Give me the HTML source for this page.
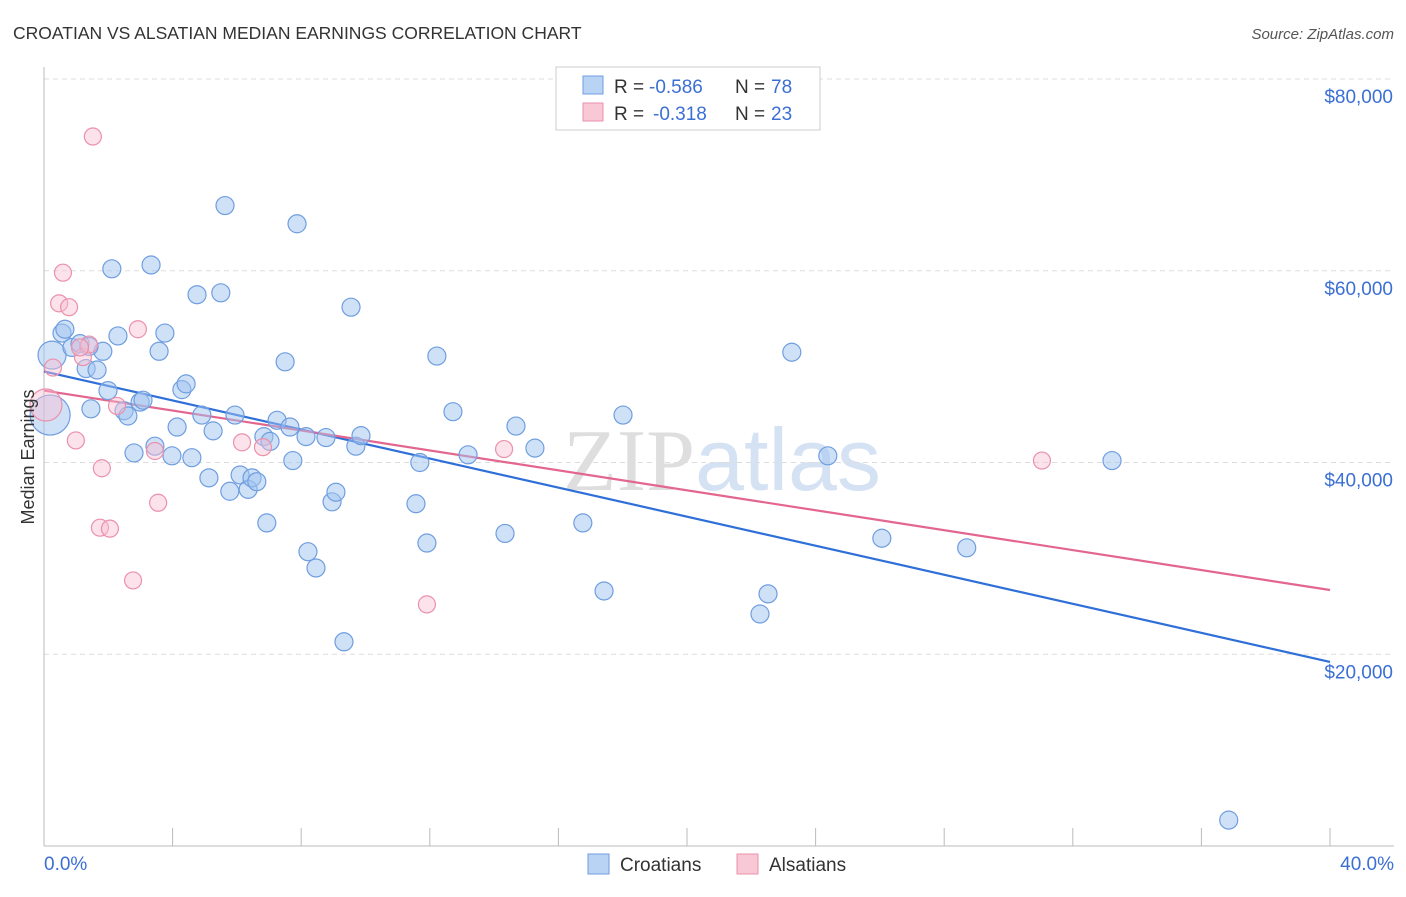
<!DOCTYPE html>
<html><head><meta charset="utf-8"><style>
body{margin:0;background:#fff;font-family:"Liberation Sans",sans-serif}
svg text{font-family:"Liberation Sans",sans-serif}
</style></head><body>
<svg id="chart" width="1406" height="892" xmlns="http://www.w3.org/2000/svg">
<text x="13" y="39" font-size="17.5" fill="#333">CROATIAN VS ALSATIAN MEDIAN EARNINGS CORRELATION CHART</text>
<text x="1394" y="39" font-size="15" fill="#555" font-style="italic" text-anchor="end">Source: ZipAtlas.com</text>
<text x="722" y="490" font-size="88" fill="#e6e6ea" text-anchor="middle"><tspan font-family="Liberation Serif" fill="#dedede">ZIP</tspan><tspan fill="#d4e2f4">atlas</tspan></text>
<g id="grid"></g><g id="axes"></g><g id="lines"></g><g id="points"></g>
<text transform="translate(34,457) rotate(-90)" font-size="18" fill="#333" text-anchor="middle">Median Earnings</text>
<text x="44" y="870" font-size="19" fill="#3b6fd4">0.0%</text>
<text x="1394" y="870" font-size="19" fill="#3b6fd4" text-anchor="end">40.0%</text>
<g font-size="19">
<rect x="556" y="67" width="264" height="63" fill="#fff" stroke="#ccc"/>
<rect x="583" y="76" width="20" height="18" fill="#b8d3f3" stroke="#6f9ee0"/>
<text x="614" y="93" fill="#333">R =</text>
<text x="649" y="93" fill="#3b6fd4">-0.586</text>
<text x="735" y="93" fill="#333">N =</text>
<text x="771" y="93" fill="#3b6fd4">78</text>
<rect x="583" y="103" width="20" height="18" fill="#f9c8d6" stroke="#ea91ab"/>
<text x="614" y="120" fill="#333">R =</text>
<text x="653" y="120" fill="#3b6fd4">-0.318</text>
<text x="735" y="120" fill="#333">N =</text>
<text x="771" y="120" fill="#3b6fd4">23</text>
</g>
<g>
<rect x="588" y="854" width="21" height="20" fill="#b8d3f3" stroke="#6f9ee0"/>
<text x="620" y="871" font-size="19" fill="#333">Croatians</text>
<rect x="737" y="854" width="21" height="20" fill="#f9c8d6" stroke="#ea91ab"/>
<text x="769" y="871" font-size="19" fill="#333">Alsatians</text>
</g>
</svg>
<script>
const yTicks=[20000,40000,60000,80000];
const yTickLabels=["$20,000","$40,000","$60,000","$80,000"];
const xTicks=[0,4,8,12,16,20,24,28,32,36,40];
const croX=[0.25,0.19,0.56,0.65,0.87,1.12,1.31,1.65,1.83,1.46,1.99,2.11,2.30,2.49,2.61,2.80,2.99,3.08,3.33,3.45,3.58,3.76,3.98,4.14,4.29,4.42,4.60,4.76,4.91,5.13,5.26,5.50,5.63,5.78,5.94,6.10,6.35,6.47,6.62,6.84,6.93,7.03,7.25,7.50,7.65,7.74,7.87,8.15,8.21,8.46,8.77,8.96,9.08,9.33,9.55,9.70,9.86,11.57,11.69,11.91,12.22,12.72,13.19,14.34,14.68,15.27,16.76,17.42,18.01,22.27,22.52,23.26,24.38,26.06,28.70,33.22,36.85,1.40];
const croY=[51200,44950,53500,53900,52000,52400,49800,49650,51600,45600,47500,60200,53200,45400,44850,41000,46300,46500,60600,41700,51600,53500,40700,43700,47600,48200,40500,57500,44950,38400,43300,57700,66800,37000,44950,38700,37200,38400,38000,42700,33700,42200,44400,50500,43700,40200,64900,42700,30700,29000,42600,35900,36900,21300,56200,41700,42800,35700,40000,31600,51100,45300,40800,32600,43800,41500,33700,26600,44950,24200,26300,51500,40700,32100,31100,40200,2700,52100];
const croR=[14,20];
const alsX=[0.06,0.28,0.47,0.59,0.78,0.99,1.21,1.40,1.74,1.80,2.05,1.52,2.27,2.77,2.92,3.45,3.55,6.16,6.81,11.91,14.31,31.04,1.12];
const alsY=[46000,49900,56600,59800,56200,42300,51000,52300,33200,39400,33100,74000,45900,27700,53900,41200,35800,42100,41600,25200,41400,40200,52000];
const alsR=[16];
const croTrend=[49500,19200];
const alsTrend=[47500,26700];
const X=v=>44+v/40*1286;
const Y=v=>846-v/80000*767;
const NS="http://www.w3.org/2000/svg";
function mk(p,t,a){const e=document.createElementNS(NS,t);for(const k in a)e.setAttribute(k,a[k]);document.getElementById(p).appendChild(e);return e;}
yTicks.forEach((t,i)=>{
 const l=mk('grid','line',{x1:44,x2:1394,y1:Y(t),y2:Y(t),stroke:'#ddd','stroke-dasharray':'5,4'});
 
 
 const tx=mk('grid','text',{x:1393,y:Y(t)+24,'font-size':19,fill:'#3b6fd4','text-anchor':'end'});
 tx.textContent=yTickLabels[i];
 
 
});
const ax=mk('axes','line',{x1:44,x2:44,y1:67,y2:846,stroke:'#bbb'});


const bx=mk('axes','line',{x1:44,x2:1394,y1:846,y2:846,stroke:'#bbb'});


xTicks.forEach(t=>{
 const l=mk('axes','line',{x1:X(t),x2:X(t),y1:828,y2:846,stroke:'#bbb'});
 
 
});
croX.forEach((x,i)=>{
 const c=mk('points','circle',{cx:X(x),cy:Y(croY[i]),r:croR[i]||9,fill:'rgba(160,195,240,0.5)',stroke:'#6f9ee0','stroke-width':1.2});
 
 
});
alsX.forEach((x,i)=>{
 const c=mk('points','circle',{cx:X(x),cy:Y(alsY[i]),r:alsR[i]||8.5,fill:'rgba(248,190,210,0.45)',stroke:'#ea91ab','stroke-width':1.2});
 
 
});
const t1=mk('lines','line',{x1:X(0),y1:Y(croTrend[0]),x2:X(40),y2:Y(croTrend[1]),stroke:'#2f6fd8','stroke-width':2.2});


const t2=mk('lines','line',{x1:X(0),y1:Y(alsTrend[0]),x2:X(40),y2:Y(alsTrend[1]),stroke:'#e3668e','stroke-width':2.2});


</script>
</body></html>
